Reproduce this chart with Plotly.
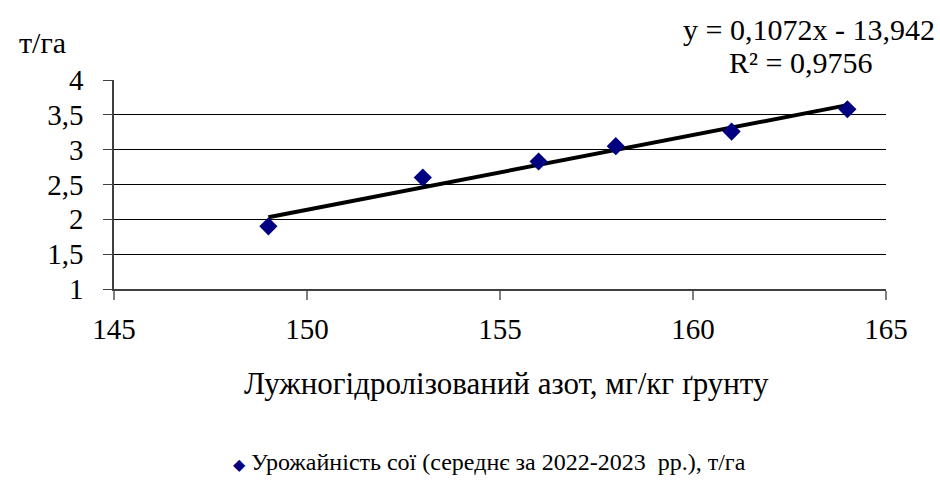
import plotly.graph_objects as go

# Data
nitrogen = [149, 153, 156, 158, 161, 164]
yield_soy = [1.90, 2.60, 2.83, 3.05, 3.26, 3.58]
slope = 0.1072
intercept = -13.942
r2_text = "R² = 0,9756"
eq_text = "y = 0,1072x - 13,942"
x_ticks = [145, 150, 155, 160, 165]
y_ticks = [1, 1.5, 2, 2.5, 3, 3.5, 4]
grid_vals = [1.5, 2, 2.5, 3, 3.5]
series_name = "Урожайність сої (середнє за 2022-2023  рр.), т/га"
x_title = "Лужногідролізований азот, мг/кг ґрунту"
y_title = "т/га"

FONT = "Liberation Serif"


def f(size):
    return dict(family=FONT, size=size, color="black")


trend_x = [min(nitrogen), max(nitrogen)]
trend_y = [slope * v + intercept for v in trend_x]

fig = go.Figure()
fig.add_trace(go.Scatter(
    x=trend_x, y=trend_y, mode="lines",
    line=dict(color="black", width=4),
    showlegend=False, hoverinfo="skip"))
fig.add_trace(go.Scatter(
    x=nitrogen, y=yield_soy, mode="markers", name=series_name,
    marker=dict(symbol="diamond", size=14, color="#000080"), showlegend=False))
fig.add_trace(go.Scatter(x=[None], y=[None], yaxis="y2", showlegend=False, hoverinfo="skip"))

fig.update_layout(
    template="none",
    width=940, height=494,
    margin=dict(l=114, r=54, t=80, b=205, autoexpand=False),
    plot_bgcolor="white", paper_bgcolor="white",
    separators=", ",
    font=f(29),
    showlegend=False,
    xaxis=dict(
        range=[145, 165], tickvals=x_ticks, showgrid=False, zeroline=False,
        showline=True, linecolor="#404040", linewidth=1.5,
        ticks="outside", ticklen=9, tickcolor="#808080", tickwidth=2,
        ticklabelstandoff=4, automargin=False, tickfont=f(29),
    ),
    yaxis=dict(
        range=[1, 4], tickvals=y_ticks,
        showgrid=False, zeroline=False, automargin=False,
        showline=True, linecolor="#404040", linewidth=1.5,
        ticks="outside", ticklen=9, tickcolor="#404040", tickwidth=1,
        ticklabelstandoff=14, tickfont=f(29),
    ),
    yaxis2=dict(
        range=[1, 4], overlaying="y", tickvals=grid_vals, showticklabels=False,
        showgrid=True, gridcolor="black", gridwidth=1, zeroline=False,
        showline=False, automargin=False, ticks="",
    ),
    annotations=[
        dict(text=y_title, xref="paper", yref="paper", x=-0.093, y=1.18,
             xanchor="center", yanchor="middle", showarrow=False, font=f(30)),
        dict(text=eq_text, xref="paper", yref="paper", x=1.066, y=1.24,
             xanchor="right", yanchor="middle", showarrow=False, font=f(30)),
        dict(text=r2_text, xref="paper", yref="paper", x=0.889, y=1.086,
             xanchor="center", yanchor="middle", showarrow=False, font=f(30)),
        dict(text=x_title, xref="paper", yref="paper", x=0.509, y=-0.45,
             xanchor="center", yanchor="middle", showarrow=False, font=f(31)),
        dict(text='<span style="color:#000080;font-size:16px">◆</span> ' + series_name,
             xref="paper", yref="paper", x=0.487, y=-0.828,
             xanchor="center", yanchor="middle", showarrow=False, font=f(24)),
    ],
)

fig.write_html("out.html", config={"displayModeBar": False},
               post_script="document.body.style.margin='0';")
